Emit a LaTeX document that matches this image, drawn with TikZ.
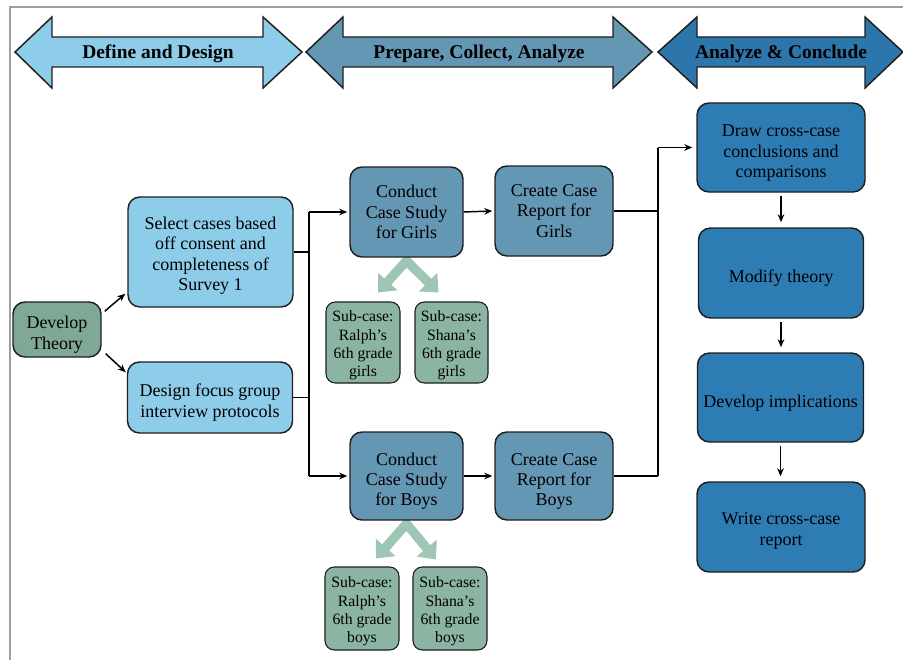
\documentclass[tikz,border=0pt]{standalone}
\usepackage{fontspec}
\setmainfont{Liberation Serif}
\usetikzlibrary{arrows.meta,calc,backgrounds}

\definecolor{lightblue}{RGB}{142,205,233}
\definecolor{steelblue}{RGB}{100,151,179}
\definecolor{deepblue}{RGB}{46,124,180}
\definecolor{deepbanner}{RGB}{44,118,172}
\definecolor{sage}{RGB}{128,168,150}
\definecolor{subsage}{RGB}{140,180,162}
\definecolor{forkgreen}{RGB}{158,198,180}
\definecolor{edge}{RGB}{30,30,30}

% zero-width struts on the first line lower each text block a little in its box
\newcommand\lift{\rule{0pt}{17.3pt}}
\newcommand\liftless{\rule{0pt}{14.8pt}}
\newcommand\liftsub{\rule{0pt}{12.8pt}}

\begin{document}
\begin{tikzpicture}[x=0.75pt,y=-0.75pt,
  sz/.style 2 args={minimum width=#1*0.75pt, minimum height=#2*0.75pt},
  box/.style={draw=edge, line width=1.1pt, rounded corners=9pt, inner sep=0pt,
    align=center, font=\fontsize{13.5}{15.2}\selectfont},
  subbox/.style={draw=edge, line width=0.8pt, rounded corners=7pt, inner sep=0pt,
    align=center, font=\fontsize{11.8}{13.8}\selectfont, fill=subsage},
  banner/.style={draw=edge, line width=1.1pt, line join=miter},
  bannertext/.style={font=\bfseries\fontsize{14.6}{17}\selectfont},
  flow/.style={line width=1.1pt, -{Stealth[length=6pt,width=5pt]}},
  link/.style={line width=1.1pt},
  fork/.style={draw=forkgreen, line width=7pt, line join=miter,
    {Triangle[width=19pt,length=11pt]}-{Triangle[width=19pt,length=11pt]}}
]
\useasboundingbox (0,0) rectangle (903,660);

% frame
\draw[gray!75, line width=1.5pt] (10,660) -- (10,7) -- (903,7);

% phase banners
\draw[banner, fill=lightblue] (15,52) -- (52,17) -- (52,37) -- (263,37) -- (263,17)
  -- (302,52) -- (263,88) -- (263,67) -- (52,67) -- (52,88) -- cycle;
\node[bannertext] (b1) at (158,53.5) {Define and Design};
\draw[banner, fill=steelblue] (306,52) -- (343,17) -- (343,37) -- (613,37) -- (613,17)
  -- (652,52) -- (613,88) -- (613,67) -- (343,67) -- (343,88) -- cycle;
\node[bannertext] (b2) at (479,53.5) {Prepare, Collect, Analyze};
\draw[banner, fill=deepbanner] (658,52) -- (697,17) -- (697,37) -- (865,37) -- (865,17)
  -- (903,52) -- (865,88) -- (865,67) -- (697,67) -- (697,88) -- cycle;
\node[bannertext] (b3) at (781,53.5) {Analyze \& Conclude};

% define and design
\node[box, fill=sage, sz={88}{55}] (dt) at (57,329.5) {\lift Develop\\Theory};
\node[box, fill=lightblue, sz={165}{110}] (sel) at (210.5,252)
  {\liftless Select cases based\\off consent and\\completeness of\\Survey 1};
\node[box, fill=lightblue, sz={165}{71}] (des) at (210,397.5)
  {\lift Design focus group\\interview protocols};

% case studies
\node[box, fill=steelblue, sz={113}{90}] (cg) at (406.5,212) {Conduct\\Case Study\\for Girls};
\node[box, fill=steelblue, sz={118}{90}] (rg) at (554,211) {Create Case\\Report for\\Girls};
\node[box, fill=steelblue, sz={113}{88}] (cb) at (406.5,476) {\lift Conduct\\Case Study\\for Boys};
\node[box, fill=steelblue, sz={118}{88}] (rb) at (554,476) {\lift Create Case\\Report for\\Boys};

\node[subbox, sz={74}{81}] (sgr) at (363,342.5) {\liftsub Sub-case:\\Ralph’s\\6th grade\\girls};
\node[subbox, sz={73}{81}] (sgs) at (451.5,342.5) {\liftsub Sub-case:\\Shana’s\\6th grade\\girls};
\node[subbox, sz={74}{83}] (sbr) at (362,608.5) {\liftsub Sub-case:\\Ralph’s\\6th grade\\boys};
\node[subbox, sz={74}{83}] (sbs) at (450,608.5) {\liftsub Sub-case:\\Shana’s\\6th grade\\boys};

% cross-case analysis
\node[box, fill=deepblue, sz={168}{89}] (dc) at (781,147.5)
  {\lift Draw cross-case\\conclusions and\\comparisons};
\node[box, fill=deepblue, sz={165}{90}] (mt) at (781,273) {\lift Modify theory};
\node[box, fill=deepblue, sz={166}{89}] (di) at (780.5,397.5) {\lift Develop implications};
\node[box, fill=deepblue, sz={168}{90}] (wr) at (781,527) {\liftless Write cross-case\\report};

% sub-case forks, behind the boxes
\begin{scope}[on background layer]
  \draw[fork] ($(sgr.north)+(15,-9)$) -- ($(cg.south)+(0,3)$) -- ($(sgs.north)+(-13,-9)$);
  \draw[fork] ($(sbr.north)+(14,-8)$) -- ($(cb.south)+(0,3)$) -- ($(sbs.north)+(-14,-7)$);
\end{scope}

% connectors
\coordinate (busL) at (309,0);
\coordinate (busR) at (658,0);

\draw[flow] ($(dt.north east)+(3,10)$) -- ($(sel.south west)+(-2,-14)$);
\draw[flow] ($(dt.south east)+(4,-4)$) -- ($(des.north west)+(-1,11)$);

\draw[link] (sel.east) -- (sel.east -| busL);
\draw[link] (des.east) -- (des.east -| busL);
\draw[link] (cg.west -| busL) -- (cb.west -| busL);
\draw[flow] (cg.west -| busL) -- ($(cg.west)+(-2,0)$);
\draw[flow] (cb.west -| busL) -- ($(cb.west)+(-2,0)$);

\draw[flow] (cg.east) -- ($(rg.west)+(-2,0)$);
\draw[flow] (cb.east) -- ($(rb.west)+(-2,0)$);

\draw[link] (rg.east) -- (rg.east -| busR);
\draw[link] (rb.east) -- (rb.east -| busR);
\draw[link] (dc.west -| busR) -- (rb.east -| busR);
\draw[flow] (dc.west -| busR) -- ($(dc.west)+(-4,0)$);

\draw[flow] ($(dc.south)+(0,3)$) -- ($(dc.south |- mt.north)+(0,-5)$);
\draw[flow] ($(mt.south)+(0,3)$) -- ($(mt.south |- di.north)+(0,-5)$);
\draw[flow] ($(di.south)+(0,3)$) -- ($(di.south |- wr.north)+(0,-5)$);
\end{tikzpicture}
\end{document}
